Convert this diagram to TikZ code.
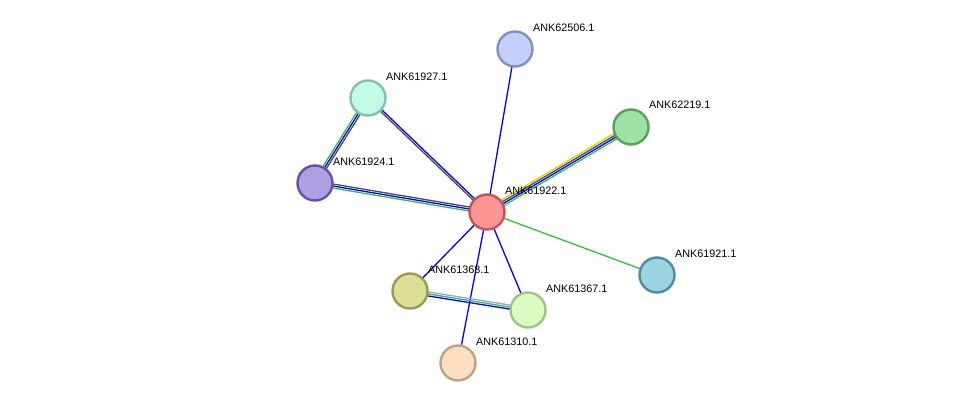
\documentclass[tikz,border=0pt]{standalone}
\usepackage{fontspec}
\setmainfont{Liberation Sans}
\usetikzlibrary{calc,backgrounds}

\tikzset{
  prot/.style={circle, minimum size=35pt, inner sep=0pt, line width=2.4pt},
  plabel/.style={anchor=west, inner sep=0pt, font=\fontsize{10.8}{12}\selectfont},
  edge/.style={line width=1.3pt}
}
% one coloured strand of an edge, shifted sideways by #3
\newcommand{\strand}[4]{\draw[edge,#4] ($(#1)!#3!90:(#2)$) -- ($(#2)!#3!-90:(#1)$);}

\begin{document}
\begin{tikzpicture}[x=1pt,y=-1pt]
    \useasboundingbox (0,0) rectangle (976,409);

    % Proteins
    \node[prot, fill={rgb,255:red,194;green,208;blue,251}, draw={rgb,255:red,127;green,143;blue,199}] (p62506) at (515,49) {};
    \node[prot, fill={rgb,255:red,196;green,251;blue,230}, draw={rgb,255:red,128;green,194;blue,174}] (p61927) at (368,98) {};
    \node[prot, fill={rgb,255:red,155;green,226;blue,163}, draw={rgb,255:red,90;green,158;blue,97}] (p62219) at (631,127) {};
    \node[prot, fill={rgb,255:red,174;green,159;blue,227}, draw={rgb,255:red,102;green,82;blue,160}] (p61924) at (315,183) {};
    \node[prot, fill={rgb,255:red,252;green,150;blue,150}, draw={rgb,255:red,196;green,84;blue,84}] (p61922) at (487,212) {};
    \node[prot, fill={rgb,255:red,155;green,212;blue,226}, draw={rgb,255:red,79;green,140;blue,155}] (p61921) at (657,275) {};
    \node[prot, fill={rgb,255:red,220;green,224;blue,150}, draw={rgb,255:red,153;green,154;blue,78}] (p61368) at (410,291) {};
    \node[prot, fill={rgb,255:red,219;green,252;blue,192}, draw={rgb,255:red,156;green,196;blue,136}] (p61367) at (528,310) {};
    \node[prot, fill={rgb,255:red,252;green,223;blue,192}, draw={rgb,255:red,195;green,160;blue,127}] (p61310) at (458,363) {};

    % Labels
    \node[plabel] (l62506) at (533,28) {ANK62506.1};
    \node[plabel] (l61927) at (386,77) {ANK61927.1};
    \node[plabel] (l62219) at (649,105) {ANK62219.1};
    \node[plabel] (l61924) at (333,162) {ANK61924.1};
    \node[plabel] (l61922) at (505,191) {ANK61922.1};
    \node[plabel] (l61921) at (675,254) {ANK61921.1};
    \node[plabel] (l61368) at (428,270) {ANK61368.1};
    \node[plabel] (l61367) at (546,289) {ANK61367.1};
    \node[plabel] (l61310) at (476,342) {ANK61310.1};

    % Interactions
    \begin{scope}[on background layer]
        \strand{p61922}{p62506}{0pt}{blue}
        \strand{p61922}{p62219}{-3pt}{green!70!black!80}
        \strand{p61922}{p62219}{-1pt}{blue}
        \strand{p61922}{p62219}{1pt}{black!70}
        \strand{p61922}{p62219}{3pt}{yellow!70!olive}
        \strand{p61922}{p61927}{-1pt}{blue}
        \strand{p61922}{p61927}{1pt}{black!70}
        \strand{p61922}{p61924}{-2pt}{black!70}
        \strand{p61922}{p61924}{0pt}{blue}
        \strand{p61922}{p61924}{2pt}{green!70!black!80}
        \strand{p61924}{p61927}{-2pt}{black!70}
        \strand{p61924}{p61927}{0pt}{blue}
        \strand{p61924}{p61927}{2pt}{green!70!black!80}
        \strand{p61922}{p61921}{0pt}{green!70!black!80}
        \strand{p61922}{p61368}{0pt}{blue}
        \strand{p61922}{p61367}{0pt}{blue}
        \strand{p61922}{p61310}{0pt}{blue}
        \strand{p61368}{p61367}{-2pt}{blue}
        \strand{p61368}{p61367}{0pt}{green!70!black!80}
        \strand{p61368}{p61367}{2pt}{blue!40}
    \end{scope}
\end{tikzpicture}
\end{document}
